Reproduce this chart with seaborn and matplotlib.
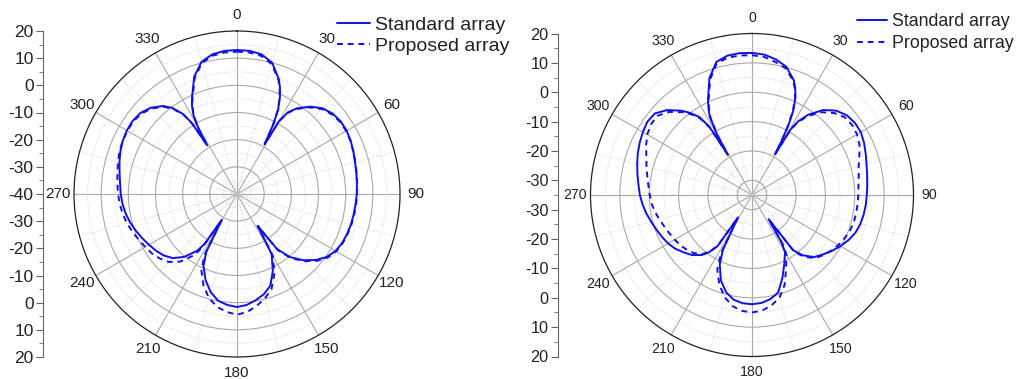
import numpy as np
import pandas as pd
import seaborn as sns
import matplotlib
matplotlib.use('Agg')
import matplotlib.pyplot as plt

# left panel: angle (deg) and gain (dB)
theta_a = [0, 5, 10, 15, 20, 22, 24, 26, 27.5, 29, 30, 32, 35, 40, 45, 50, 55, 60, 65, 70,
           75, 80, 85, 90, 95, 100, 105, 110, 115, 120, 125, 130, 135, 140, 144, 147, 150,
           155, 160, 165, 170, 175, 180, 185, 190, 195, 200, 205, 208, 210.5, 213, 215, 220,
           225, 230, 235, 240, 245, 250, 255, 260, 265, 270, 275, 280, 285, 290, 295, 300,
           305, 310, 315, 320, 323, 326, 327.5, 328.5, 329.5, 331, 333, 335, 340, 345, 350,
           355, 360]
std_a = [13.0, 12.9, 12.2, 10.0, 5.0, 2.2, -1.2, -5.5, -11.0, -19.0, -9.0, -4.5, -1.5, 2.0,
         4.6, 6.0, 6.6, 6.6, 6.2, 5.6, 5.0, 4.6, 4.3, 4.1, 3.8, 3.6, 3.4, 3.1, 2.7, 1.9, 0.4,
         -2.2, -5.5, -9.7, -15.0, -26.0, -14.5, -8.8, -4.1, -1.8, -0.3, 1.0, 1.6, 1.0, -0.1,
         -2.6, -6.2, -10.8, -16.0, -29.0, -18.0, -14.5, -9.8, -6.6, -4.8, -3.6, -2.6, -1.5,
         -0.4, 0.7, 1.6, 2.3, 2.8, 3.2, 3.9, 4.8, 5.7, 6.4, 6.8, 6.9, 6.4, 4.9, 2.3, -0.3,
         -4.5, -9.0, -19.0, -12.0, -7.0, -3.5, -0.8, 6.0, 10.4, 12.2, 12.9, 13.0]
prop_a = [12.4, 12.3, 11.6, 9.5, 4.6, 1.9, -1.5, -5.8, -11.2, -19.0, -9.2, -4.8, -1.8, 1.6,
          4.2, 5.6, 6.3, 6.4, 6.1, 5.6, 5.1, 4.7, 4.4, 4.2, 4.0, 3.8, 3.6, 3.3, 2.9, 2.2, 0.8,
          -1.7, -5.0, -9.2, -14.5, -26.0, -13.5, -7.5, -2.8, -0.2, 1.8, 3.6, 4.4, 3.6, 2.2,
          -0.3, -4.0, -9.0, -14.5, -29.0, -16.5, -12.5, -7.5, -4.6, -3.0, -1.8, -1.0, -0.1,
          0.9, 1.9, 2.7, 3.3, 3.8, 4.2, 4.7, 5.4, 6.0, 6.4, 6.6, 6.6, 6.0, 4.5, 1.9, -0.7,
          -4.8, -9.3, -19.0, -12.3, -7.3, -3.8, -1.2, 5.5, 9.9, 11.7, 12.3, 12.4]

# right panel
theta_b = [0, 5, 10, 15, 20, 22, 24, 26, 27.5, 28.7, 29.5, 30.5, 32, 35, 40, 45, 50, 55, 60,
           65, 70, 75, 80, 85, 90, 95, 100, 105, 110, 115, 120, 125, 130, 135, 140, 143.3,
           145.5, 148, 150, 155, 160, 165, 170, 175, 180, 185, 190, 195, 200, 205, 208, 212,
           214, 217, 220, 225, 230, 235, 240, 245, 250, 255, 260, 265, 270, 275, 280, 285,
           290, 295, 300, 305, 310, 315, 320, 323, 326, 328, 329, 330, 331.7, 333, 335, 340,
           345, 350, 355, 360]
std_b = [13.4, 13.0, 11.9, 10.2, 6.6, 4.3, 1.4, -2.8, -8.0, -14.0, -19.0, -9.0, -5.5, -1.6,
         2.8, 5.6, 7.2, 7.8, 7.8, 7.1, 6.2, 5.4, 4.8, 4.4, 4.1, 3.9, 3.6, 3.2, 2.5, 1.3, -0.2,
         -1.8, -3.5, -5.1, -8.2, -11.6, -25.0, -16.0, -12.5, -9.0, -4.8, -0.6, 1.0, 1.9, 2.2,
         2.0, 1.2, -0.8, -4.0, -9.0, -14.0, -26.0, -14.0, -10.5, -8.3, -6.1, -4.6, -3.1, -2.0,
         -1.2, -0.4, 0.5, 1.5, 2.4, 3.2, 3.8, 4.6, 5.5, 6.4, 7.2, 7.9, 8.5, 8.2, 5.9, 2.5, 0.0,
         -3.0, -7.5, -19.0, -11.0, -4.7, -2.5, 0.5, 7.4, 11.9, 13.2, 13.5, 13.4]
prop_b = [12.6, 12.2, 11.0, 9.6, 6.2, 4.0, 1.0, -3.3, -8.5, -14.0, -19.0, -9.5, -6.0, -2.3,
          1.8, 4.5, 6.2, 6.6, 6.3, 5.4, 3.9, 2.6, 1.9, 1.4, 1.2, 1.1, 1.0, 0.9, 0.5, -0.2,
          -1.0, -2.0, -3.2, -4.6, -7.5, -11.0, -25.0, -15.0, -11.5, -7.5, -2.5, 1.2, 3.2, 4.5,
          5.0, 4.6, 3.4, 1.0, -2.5, -7.0, -12.5, -26.0, -14.0, -10.8, -8.8, -7.0, -6.0, -5.2,
          -4.6, -4.0, -3.3, -2.4, -1.5, -0.7, -0.2, 0.4, 1.2, 2.2, 3.3, 4.8, 6.2, 7.0, 7.0,
          5.0, 1.8, -0.6, -3.6, -8.0, -19.0, -11.5, -5.2, -3.0, 0.0, 6.8, 11.4, 12.5, 12.7,
          12.6]

angle_ticks = list(range(0, 360, 30))
angle_labels = [str(a) for a in angle_ticks]
scale_a = [20, 10, 0, -10, -20, -30, -40, -30, -20, -10, 0, 10, 20]
scale_b = [20, 10, 0, -10, -20, -30, -30, -20, -10, 0, 10, 20]
series_names = ['Standard array', 'Proposed array']

W, H = 1021, 379
blue = '#1010e8'
txt = '#222222'

sns.set_style('white')
plt.rcParams['font.family'] = ['Liberation Sans', 'DejaVu Sans']

fig = plt.figure(figsize=(W / 100, H / 100), dpi=100)


def px_rect(x0, y0, w, h):
    return [x0 / W, 1 - (y0 + h) / H, w / W, h / H]


def draw_panel(cx, cy, rad, scale_x, theta, std, prop, rmin, rmax, labels,
               leg_xy, fs, leg_fs, leg_space):
    ax = fig.add_axes(px_rect(cx - rad, cy - rad, 2 * rad, 2 * rad), projection='polar')
    ax.set_theta_zero_location('N')
    ax.set_theta_direction(-1)
    df = pd.DataFrame({'theta': np.deg2rad(theta), 'std': std, 'prop': prop})
    sns.lineplot(data=df, x='theta', y='std', sort=False, estimator=None, color=blue,
                 lw=1.4, ax=ax, label=series_names[0])
    sns.lineplot(data=df, x='theta', y='prop', sort=False, estimator=None, color=blue,
                 lw=1.4, dashes=(3, 2.5), ax=ax, label=series_names[1])
    ax.set_xlabel('')
    ax.set_ylabel('')
    ax.set_ylim(rmin, rmax)
    ax.set_xticks(np.deg2rad(angle_ticks))
    ax.set_xticklabels(angle_labels, fontsize=fs, color=txt)
    ax.set_xticks(np.deg2rad(np.arange(15, 360, 30)), minor=True)
    first = rmin + (10 - rmin % 10) % 10
    if first == rmin:
        first += 10
    ax.set_yticks(np.arange(first, rmax, 10))
    ax.set_yticks(np.arange(first - 5, rmax, 10)[np.arange(first - 5, rmax, 10) > rmin],
                  minor=True)
    ax.set_yticklabels([])
    ax.tick_params(axis='y', which='both', length=0)
    ax.tick_params(axis='x', which='major', direction='in', length=5, width=0.8,
                   color='#444444', pad=4.5)
    ax.tick_params(axis='x', which='minor', direction='in', length=3, width=0.6,
                   color='#444444')
    ax.grid(which='major', color='#a9a9a9', lw=0.8, ls='-')
    ax.grid(which='minor', color='#cfcfcf', lw=0.7, ls=':')
    ax.spines['polar'].set_color('#222222')
    ax.spines['polar'].set_linewidth(0.9)
    handles, _ = ax.get_legend_handles_labels()
    ax.legend(handles, series_names, loc='upper left',
              bbox_to_anchor=(leg_xy[0] / W, 1 - leg_xy[1] / H),
              bbox_transform=fig.transFigure, frameon=False, borderpad=0,
              borderaxespad=0, handlelength=1.7, handletextpad=0.25,
              labelspacing=leg_space, fontsize=leg_fs, labelcolor=txt)

    # vertical dB scale on the left
    half = rmax - rmin
    sx = fig.add_axes(px_rect(scale_x, cy - rad, 1, 2 * rad))
    sx.set_ylim(-half, half)
    n = len(labels)
    pos = [(v - rmin) * (1 if i < n // 2 else -1) for i, v in enumerate(labels)]
    sx.set_yticks(pos)
    sx.set_yticklabels([str(v) for v in labels], fontsize=fs + 1.5, color=txt)
    sx.set_yticks(np.arange(-half, half + 1, 5), minor=True)
    sx.set_xticks([])
    for s in ['top', 'right', 'bottom']:
        sx.spines[s].set_visible(False)
    sx.spines['left'].set_color('#666666')
    sx.spines['left'].set_linewidth(0.8)
    sx.tick_params(axis='y', which='major', direction='out', length=5, width=0.8,
                   color='#666666', pad=2, left=True)
    sx.tick_params(axis='y', which='minor', direction='out', length=3, width=0.6,
                   color='#666666', left=True)
    sx.patch.set_alpha(0)


draw_panel(237, 194, 163, 43.3, theta_a, std_a, prop_a, -40, 20, scale_a,
           (337, 16), 11, 14, 0.2)
draw_panel(752, 195, 161.5, 558.3, theta_b, std_b, prop_b, -35, 20, scale_b,
           (857, 13.5), 10.2, 12.8, 0.28)

fig.savefig('out.png', dpi=100, facecolor='white')
